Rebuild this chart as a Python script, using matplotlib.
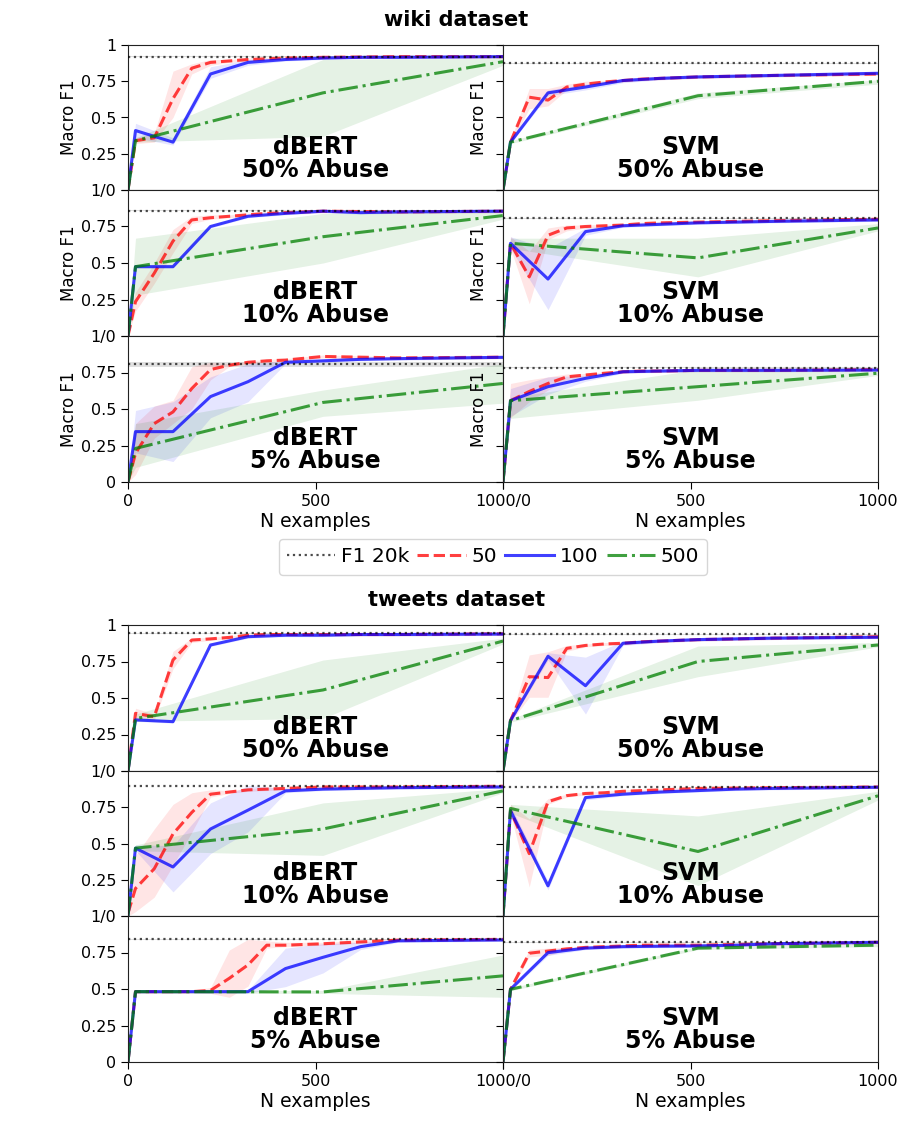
import matplotlib
matplotlib.use('Agg')
import matplotlib.pyplot as plt
from matplotlib.lines import Line2D

# x positions of the visible vertices of each curve
x50 = [0, 20, 70, 120, 170, 220, 270, 320, 370, 420, 520, 720, 1000]
x100 = [0, 20, 120, 220, 320, 420, 520, 620, 720, 1000]
x500 = [0, 20, 520, 1000]

# entries: mean or (mean, low, high) of the shaded band
W_D50_f1 = (0.92, 0.005)
W_D50_r = [0, (0.34, 0.32, 0.36), (0.36, 0.33, 0.39), (0.63, 0.50, 0.82), (0.84, 0.80, 0.87), (0.88, 0.86, 0.90), 0.89, 0.90, 0.905, 0.91, 0.915, 0.92, 0.92]
W_D50_b = [0, (0.41, 0.36, 0.46), (0.33, 0.31, 0.36), (0.80, 0.77, 0.85), (0.88, 0.86, 0.90), 0.90, 0.91, 0.915, 0.915, 0.92]
W_D50_g = [0, (0.34, 0.33, 0.36), (0.67, 0.37, 0.90), (0.885, 0.86, 0.91)]

W_S50_f1 = (0.875, 0.003)
W_S50_r = [0, 0.33, (0.64, 0.56, 0.70), (0.62, 0.58, 0.70), (0.71, 0.69, 0.73), (0.73, 0.72, 0.75), 0.745, 0.755, 0.765, 0.77, 0.78, 0.79, 0.80]
W_S50_b = [0, 0.33, (0.67, 0.65, 0.69), (0.71, 0.69, 0.73), (0.755, 0.74, 0.77), 0.77, 0.78, 0.785, 0.79, 0.805]
W_S50_g = [0, 0.33, (0.65, 0.63, 0.67), (0.75, 0.73, 0.76)]

W_D10_f1 = (0.858, 0.004)
W_D10_r = [(0, 0, 0.05), (0.235, 0.17, 0.30), (0.43, 0.36, 0.50), (0.65, 0.57, 0.73), (0.795, 0.77, 0.82), (0.81, 0.80, 0.83), 0.82, 0.83, 0.84, 0.845, 0.855, 0.85, 0.855]
W_D10_b = [0, 0.475, 0.475, (0.75, 0.74, 0.76), 0.82, 0.84, 0.855, 0.845, 0.85, 0.855]
W_D10_g = [0, (0.475, 0.28, 0.67), (0.68, 0.50, 0.84), (0.825, 0.80, 0.86)]

W_S10_f1 = (0.806, 0.003)
W_S10_r = [0, (0.635, 0.60, 0.68), (0.405, 0.22, 0.58), (0.69, 0.66, 0.74), (0.74, 0.72, 0.76), 0.75, 0.755, 0.76, 0.77, 0.775, 0.78, 0.79, 0.80]
W_S10_b = [0, (0.635, 0.60, 0.68), (0.39, 0.18, 0.60), (0.715, 0.69, 0.74), 0.755, 0.765, 0.775, 0.78, 0.785, 0.795]
W_S10_g = [0, (0.635, 0.60, 0.67), (0.535, 0.405, 0.67), (0.74, 0.72, 0.77)]

W_D5_f1 = (0.806, 0.015)
W_D5_r = [(0, 0, 0.02), (0.196, 0.05, 0.40), (0.40, 0.30, 0.52), (0.48, 0.40, 0.56), (0.64, 0.50, 0.79), (0.77, 0.70, 0.82), 0.80, 0.82, 0.83, 0.835, 0.86, 0.85, 0.855]
W_D5_b = [0, (0.345, 0.20, 0.49), (0.345, 0.14, 0.55), (0.585, 0.44, 0.72), (0.687, 0.55, 0.81), (0.82, 0.81, 0.83), 0.83, 0.84, 0.845, 0.854]
W_D5_g = [0, (0.23, 0.10, 0.40), (0.545, 0.45, 0.63), (0.675, 0.54, 0.81)]

W_S5_f1 = (0.783, 0.003)
W_S5_r = [0, (0.557, 0.44, 0.675), (0.62, 0.55, 0.70), (0.675, 0.63, 0.72), (0.72, 0.70, 0.74), 0.733, 0.745, 0.755, 0.76, 0.76, 0.765, 0.765, 0.77]
W_S5_b = [0, (0.557, 0.45, 0.64), (0.653, 0.60, 0.72), (0.71, 0.69, 0.73), 0.755, 0.76, 0.765, 0.765, 0.765, 0.767]
W_S5_g = [0, (0.557, 0.436, 0.58), (0.653, 0.56, 0.77), (0.745, 0.73, 0.76)]

T_D50_f1 = (0.943, 0.003)
T_D50_r = [0, (0.395, 0.36, 0.43), (0.372, 0.35, 0.39), (0.76, 0.70, 0.82), (0.897, 0.88, 0.91), (0.905, 0.895, 0.915), 0.915, 0.93, 0.935, 0.935, 0.935, 0.935, 0.94]
T_D50_b = [0, 0.35, 0.338, 0.863, 0.92, 0.93, 0.93, 0.935, 0.935, 0.938]
T_D50_g = [0, (0.36, 0.34, 0.39), (0.555, 0.36, 0.76), (0.89, 0.87, 0.91)]

T_S50_f1 = (0.936, 0.003)
T_S50_r = [0, 0.345, (0.646, 0.505, 0.795), (0.64, 0.505, 0.817), (0.84, 0.82, 0.86), 0.86, 0.87, 0.875, 0.885, 0.89, 0.90, 0.91, 0.92]
T_S50_b = [0, 0.345, (0.786, 0.76, 0.81), (0.584, 0.39, 0.78), (0.875, 0.86, 0.89), 0.89, 0.90, 0.905, 0.91, 0.916]
T_S50_g = [0, 0.345, (0.75, 0.646, 0.856), (0.863, 0.85, 0.88)]

T_D10_f1 = (0.897, 0.003)
T_D10_r = [(0.02, 0, 0.05), (0.19, 0.03, 0.418), (0.326, 0.13, 0.60), (0.566, 0.35, 0.77), (0.714, 0.577, 0.85), (0.84, 0.82, 0.87), 0.855, 0.87, 0.875, 0.88, 0.89, 0.89, 0.895]
T_D10_b = [0, (0.468, 0.45, 0.49), (0.338, 0.166, 0.486), (0.60, 0.43, 0.78), (0.73, 0.58, 0.90), (0.863, 0.85, 0.88), 0.875, 0.88, 0.885, 0.89]
T_D10_g = [0, (0.468, 0.45, 0.49), (0.60, 0.418, 0.78), (0.863, 0.85, 0.88)]

T_S10_f1 = (0.89, 0.003)
T_S10_r = [0, (0.726, 0.70, 0.77), (0.43, 0.20, 0.67), (0.788, 0.77, 0.81), 0.83, 0.845, 0.85, 0.86, 0.865, 0.87, 0.88, 0.885, 0.89]
T_S10_b = [0, (0.726, 0.70, 0.76), (0.208, 0.18, 0.24), (0.817, 0.80, 0.83), 0.84, 0.855, 0.865, 0.875, 0.88, 0.888]
T_S10_g = [0, (0.742, 0.71, 0.77), (0.445, 0.21, 0.69), (0.829, 0.80, 0.86)]

T_D5_f1 = (0.84, 0.003)
T_D5_r = [0, 0.482, 0.482, 0.482, 0.482, (0.49, 0.47, 0.51), (0.573, 0.443, 0.767), (0.665, 0.52, 0.84), (0.80, 0.78, 0.83), (0.80, 0.79, 0.82), 0.81, 0.835, 0.84]
T_D5_b = [0, 0.482, 0.482, 0.482, 0.482, (0.64, 0.516, 0.78), (0.717, 0.61, 0.81), (0.79, 0.77, 0.82), 0.83, 0.836]
T_D5_g = [0, 0.482, (0.48, 0.47, 0.49), (0.59, 0.443, 0.733)]

T_S5_f1 = (0.82, 0.003)
T_S5_r = [0, 0.498, (0.745, 0.72, 0.77), (0.76, 0.73, 0.78), 0.775, 0.785, 0.79, 0.795, 0.80, 0.80, 0.80, 0.81, 0.82]
T_S5_b = [0, 0.498, (0.749, 0.73, 0.77), 0.78, 0.79, 0.793, 0.795, 0.80, 0.81, 0.82]
T_S5_g = [0, 0.498, (0.78, 0.77, 0.79), (0.80, 0.79, 0.81)]

BAND = 0.01  # half width of the band where it is too thin to read

W, H = 913, 1145
fig = plt.figure(figsize=(W / 100, H / 100), dpi=100)

def unpack(vals):
    m, lo, hi = [], [], []
    for v in vals:
        if isinstance(v, tuple):
            m.append(v[0]); lo.append(v[1]); hi.append(v[2])
        else:
            m.append(v); lo.append(max(v - BAND, 0)); hi.append(v + BAND)
    return m, lo, hi

def panel(col, top, bottom, f1, r, b, g, name, row, ylab):
    left = 128 if col == 0 else 503
    ax = fig.add_axes([left / W, 1 - bottom / H, 375 / W, (bottom - top) / H])
    fm, fs = f1
    ax.axhline(fm, color='k', ls=':', lw=1.6, alpha=0.7, zorder=3)
    ax.axhspan(fm - fs, fm + fs, color='k', alpha=0.12, lw=0)
    for xs, vals, c, ls in [(x50, r, 'r', '--'), (x100, b, 'b', '-'), (x500, g, 'g', '-.')]:
        m, lo, hi = unpack(vals)
        ax.fill_between(xs, lo, hi, color=c, alpha=0.1, lw=0)
        ax.plot(xs, m, color=c, ls=ls, lw=2.2, alpha=0.75)
    ax.set_xlim(0, 1000)
    ax.set_ylim(0, 1)
    ax.set_yticks([0, 0.25, 0.5, 0.75, 1])
    if col == 0:
        if row == 0:
            ax.set_yticklabels(['1/0', '0.25', '0.5', '0.75', '1'])
        elif row == 1:
            ax.set_yticklabels(['1/0', '0.25', '0.5', '0.75', ''])
        else:
            ax.set_yticklabels(['0', '0.25', '0.5', '0.75', ''])
    else:
        ax.set_yticklabels([])
    if ylab:
        ax.set_ylabel('Macro F1', fontsize=12)
        ax.yaxis.set_label_coords(-0.133 if col == 0 else -0.04, 0.5)
    ax.set_xticks([0, 500, 1000])
    if row == 2:
        ax.set_xticklabels(['0', '500', '1000/0'] if col == 0 else ['', '500', '1000'])
        ax.set_xlabel('N examples', fontsize=13.5, labelpad=2)
    else:
        ax.tick_params(bottom=False, labelbottom=False)
    ax.tick_params(labelsize=11.5, length=5)
    for s in ax.spines.values():
        s.set_color('#222222')
    ax.text(0.5, 0.22, name, transform=ax.transAxes, ha='center', va='center',
            fontsize=17, fontweight='bold', linespacing=0.95)
    return ax

wiki = [(W_D50_f1, W_D50_r, W_D50_b, W_D50_g, W_S50_f1, W_S50_r, W_S50_b, W_S50_g, '50%'),
        (W_D10_f1, W_D10_r, W_D10_b, W_D10_g, W_S10_f1, W_S10_r, W_S10_b, W_S10_g, '10%'),
        (W_D5_f1, W_D5_r, W_D5_b, W_D5_g, W_S5_f1, W_S5_r, W_S5_b, W_S5_g, '5%')]
tweets = [(T_D50_f1, T_D50_r, T_D50_b, T_D50_g, T_S50_f1, T_S50_r, T_S50_b, T_S50_g, '50%'),
          (T_D10_f1, T_D10_r, T_D10_b, T_D10_g, T_S10_f1, T_S10_r, T_S10_b, T_S10_g, '10%'),
          (T_D5_f1, T_D5_r, T_D5_b, T_D5_g, T_S5_f1, T_S5_r, T_S5_b, T_S5_g, '5%')]

for rows, edges, ylab in [(wiki, [45, 190, 336, 482], True), (tweets, [625, 771, 916, 1062], False)]:
    # left column first so the right column's labels sit on top
    for col in (0, 1):
        for i, p in enumerate(rows):
            if col == 0:
                panel(0, edges[i], edges[i + 1], p[0], p[1], p[2], p[3], 'dBERT\n' + p[8] + ' Abuse', i, ylab)
            else:
                panel(1, edges[i], edges[i + 1], p[4], p[5], p[6], p[7], 'SVM\n' + p[8] + ' Abuse', i, ylab)

fig.text(0.5, 1 - 20 / H, 'wiki dataset', ha='center', va='center', fontsize=15, fontweight='bold')
fig.text(0.5, 1 - 600 / H, 'tweets dataset', ha='center', va='center', fontsize=15, fontweight='bold')

handles = [Line2D([], [], color='k', ls=':', lw=1.6, alpha=0.7),
           Line2D([], [], color='r', ls='--', lw=2.2, alpha=0.75),
           Line2D([], [], color='b', ls='-', lw=2.2, alpha=0.75),
           Line2D([], [], color='g', ls='-.', lw=2.2, alpha=0.75)]
fig.legend(handles, ['F1 20k', '50', '100', '500'], loc='center', bbox_to_anchor=(493 / W, 1 - 557 / H),
           ncol=4, fontsize=14.5, handlelength=2.4, handletextpad=0.3, columnspacing=0.4, borderpad=0.4)

fig.savefig('out.png', dpi=100)
